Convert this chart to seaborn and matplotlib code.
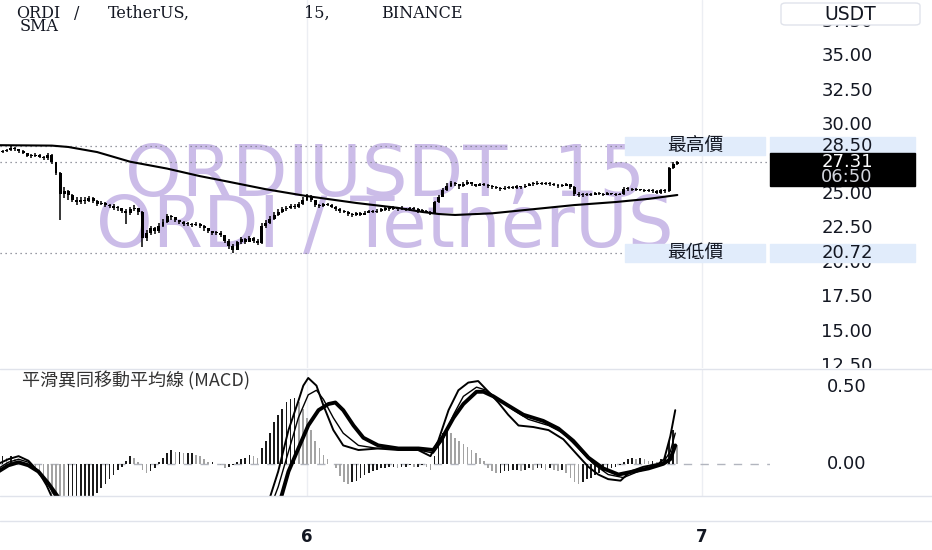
import numpy as np
import pandas as pd
import matplotlib
matplotlib.use("Agg")
import matplotlib.pyplot as plt
import matplotlib.transforms as mtransforms
from matplotlib.patches import Rectangle, FancyBboxPatch
from matplotlib.lines import Line2D
import seaborn as sns

# ---- 15m candles, ORDI/USDT ----
first_open = 28.00
closes = [
    28.05, 28.10, 28.20, 28.35, 28.25, 28.10, 28.00, 27.80, 27.75, 27.85,
    27.70, 27.60, 27.85, 27.30, 26.50, 25.00, 25.20, 24.90, 24.60, 24.40,
    24.60, 24.50, 24.70, 24.50, 24.30, 24.35, 24.20, 24.15, 24.00, 23.95,
    23.80, 23.60, 23.90, 24.00, 23.70, 21.80, 22.20, 22.50, 22.30, 22.70,
    23.00, 23.40, 23.30, 23.10, 22.95, 22.85, 22.80, 22.75, 22.80, 22.70,
    22.50, 22.30, 22.15, 22.20, 22.00, 21.60, 21.20, 20.95, 21.50, 21.70,
    21.55, 21.80, 21.60, 21.45, 22.70, 22.90, 23.20, 23.50, 23.70, 23.90,
    23.95, 24.10, 24.05, 24.30, 24.60, 24.85, 24.55, 24.20, 24.10, 24.25,
    24.20, 24.05, 23.90, 23.75, 23.70, 23.55, 23.45, 23.60, 23.50, 23.65,
    23.75, 23.70, 23.80, 23.85, 23.95, 23.90, 24.00, 23.90, 23.95, 23.85,
    23.95, 23.90, 23.75, 23.80, 23.70, 23.60, 24.40, 24.80, 25.30, 25.60,
    25.80, 25.70, 25.55, 25.75, 25.85, 25.70, 25.60, 25.70, 25.65, 25.55,
    25.50, 25.45, 25.35, 25.45, 25.50, 25.45, 25.55, 25.50, 25.60, 25.70,
    25.75, 25.80, 25.75, 25.80, 25.70, 25.65, 25.55, 25.60, 25.70, 25.50,
    25.00, 24.90, 24.95, 25.00, 24.95, 25.05, 25.00, 24.95, 25.05, 25.00,
    24.95, 25.00, 25.40, 25.35, 25.30, 25.35, 25.30, 25.25, 25.30, 25.20,
    25.10, 25.30, 25.20, 26.90, 27.20, 27.31,
]
highs = [
    28.15, 28.20, 28.30, 28.50, 28.45, 28.30, 28.20, 28.00, 27.90, 27.95,
    27.90, 27.75, 28.00, 27.90, 27.35, 26.60, 25.50, 25.30, 25.00, 24.80,
    24.80, 24.75, 24.85, 24.80, 24.55, 24.50, 24.40, 24.30, 24.25, 24.10,
    24.00, 23.90, 24.05, 24.20, 24.00, 23.80, 22.40, 22.70, 22.60, 22.90,
    23.20, 23.55, 23.50, 23.35, 23.15, 23.05, 22.95, 22.90, 22.95, 22.90,
    22.75, 22.55, 22.35, 22.35, 22.30, 22.05, 21.70, 21.35, 21.60, 21.85,
    21.80, 21.95, 21.85, 21.70, 22.90, 23.10, 23.40, 23.70, 23.90, 24.05,
    24.10, 24.25, 24.25, 24.45, 24.75, 25.00, 24.95, 24.60, 24.30, 24.35,
    24.35, 24.25, 24.10, 23.95, 23.85, 23.75, 23.65, 23.70, 23.70, 23.80,
    23.85, 23.85, 23.90, 23.95, 24.05, 24.05, 24.10, 24.05, 24.10, 24.00,
    24.05, 24.05, 23.95, 23.90, 23.85, 23.80, 24.50, 24.95, 25.45, 25.80,
    25.95, 25.90, 25.75, 25.90, 26.00, 25.90, 25.75, 25.80, 25.80, 25.70,
    25.65, 25.60, 25.50, 25.55, 25.60, 25.60, 25.65, 25.60, 25.70, 25.80,
    25.90, 25.95, 25.90, 25.90, 25.85, 25.80, 25.70, 25.70, 25.80, 25.75,
    25.55, 25.15, 25.10, 25.10, 25.10, 25.15, 25.15, 25.10, 25.15, 25.10,
    25.10, 25.10, 25.50, 25.50, 25.45, 25.45, 25.40, 25.40, 25.40, 25.35,
    25.30, 25.40, 25.35, 27.00, 27.35, 27.40,
]
lows = [
    27.95, 28.00, 28.05, 28.15, 28.15, 28.00, 27.90, 27.70, 27.60, 27.70,
    27.60, 27.45, 27.50, 27.20, 26.40, 23.10, 24.70, 24.60, 24.40, 24.20,
    24.30, 24.30, 24.40, 24.35, 24.15, 24.20, 24.05, 24.00, 23.85, 23.80,
    23.60, 22.80, 23.50, 23.80, 23.50, 21.15, 21.60, 22.00, 22.10, 22.20,
    22.60, 22.90, 23.10, 22.95, 22.80, 22.70, 22.65, 22.60, 22.65, 22.55,
    22.35, 22.15, 22.00, 22.05, 21.85, 21.45, 21.00, 20.72, 20.90, 21.40,
    21.40, 21.50, 21.45, 21.30, 21.40, 22.50, 22.80, 23.10, 23.40, 23.60,
    23.75, 23.90, 23.90, 24.00, 24.20, 24.50, 24.40, 24.05, 24.00, 24.05,
    24.10, 23.95, 23.80, 23.65, 23.60, 23.40, 23.35, 23.40, 23.40, 23.45,
    23.60, 23.60, 23.65, 23.70, 23.80, 23.80, 23.85, 23.80, 23.85, 23.75,
    23.80, 23.80, 23.65, 23.70, 23.60, 23.50, 23.55, 24.35, 24.75, 25.20,
    25.50, 25.55, 25.40, 25.50, 25.65, 25.60, 25.50, 25.55, 25.55, 25.45,
    25.40, 25.35, 25.25, 25.30, 25.40, 25.35, 25.40, 25.40, 25.45, 25.55,
    25.60, 25.65, 25.65, 25.65, 25.60, 25.55, 25.45, 25.50, 25.55, 25.40,
    24.85, 24.75, 24.80, 24.85, 24.85, 24.90, 24.90, 24.85, 24.90, 24.90,
    24.85, 24.90, 24.95, 25.20, 25.20, 25.25, 25.20, 25.15, 25.15, 25.10,
    25.00, 25.00, 25.10, 25.15, 26.80, 27.10,
]

# SMA line (candle index, value)
sma_idx = [0, 13, 17, 24, 32, 41, 49, 55, 65, 75, 87, 97, 103, 107, 111,
           120, 130, 140, 150, 158, 165]
sma_vals = [28.55, 28.52, 28.42, 28.05, 27.35, 26.85, 26.30, 25.95, 25.35,
            24.85, 24.35, 24.00, 23.70, 23.55, 23.48, 23.60, 23.90, 24.20,
            24.42, 24.65, 24.93]

# MACD pane
macd_idx = [0, 2.4, 4.9, 7.3, 9.7, 11.7, 13.4, 19, 36, 49, 61, 65.1, 66.1, 68,
            70.5, 72.9, 74.1, 75.3, 77.3, 79, 81.4, 83.8, 87.5, 92.3, 97.2,
            102, 105, 106.9, 109.4, 111.8, 114.2, 116.6, 119.1, 121.5, 123.9,
            126.4, 130, 133.7, 137.3, 141, 143.4, 145.8, 148.2, 151.2, 153.6,
            156.7, 160.4, 161.8, 163.3, 164.5]
macd_vals = [0.00, 0.03, 0.05, 0.02, -0.05, -0.14, -0.24, -0.45, -0.60, -0.52,
             -0.45, -0.30, -0.21, -0.05, 0.22, 0.41, 0.51, 0.56, 0.51, 0.38,
             0.22, 0.12, 0.09, 0.10, 0.09, 0.09, 0.05, 0.15, 0.35, 0.48, 0.53,
             0.54, 0.47, 0.40, 0.32, 0.25, 0.24, 0.22, 0.16, 0.05, -0.02,
             -0.07, -0.10, -0.11, -0.05, -0.02, 0.00, 0.03, 0.18, 0.35]

signal_idx = [0, 2.4, 4.9, 7.3, 9.7, 12.2, 14.6, 24, 36, 49, 61, 66.8, 68.8,
              70.5, 72.9, 75.3, 77.8, 80.2, 81.9, 83.8, 86.3, 88.7, 92.3, 97.2,
              102.1, 105.7, 108.1, 110.6, 113, 116.2, 117.9, 120.3, 123.9,
              127.6, 132.4, 136.1, 139.7, 143.4, 147, 150.7, 154.3, 158, 161.6,
              163.3, 164.5]
signal_vals = [-0.05, -0.01, 0.01, -0.01, -0.05, -0.13, -0.22, -0.45, -0.55,
               -0.52, -0.45, -0.35, -0.21, -0.05, 0.10, 0.25, 0.35, 0.39, 0.40,
               0.35, 0.25, 0.17, 0.12, 0.10, 0.10, 0.09, 0.18, 0.30, 0.39, 0.47,
               0.47, 0.44, 0.38, 0.32, 0.28, 0.23, 0.15, 0.04, -0.03, -0.07,
               -0.05, -0.03, 0.00, 0.03, 0.12]

third_idx = [0, 2.4, 4.9, 7.3, 9.7, 12.2, 14.1, 24, 36, 49, 61, 66.6, 68, 70.5,
             72.9, 75.3, 77.3, 79, 81.4, 83.8, 87.5, 92.3, 97.2, 102.1, 105.7,
             108.1, 110.6, 113, 116.2, 118.6, 121.5, 125.2, 128.8, 133.7,
             137.3, 141, 144.6, 148.2, 151.9, 155.5, 159.2, 161.6, 163.3, 164.5]
third_vals = [-0.03, 0.01, 0.03, 0.01, -0.05, -0.14, -0.23, -0.50, -0.58, -0.50,
              -0.45, -0.25, -0.15, 0.08, 0.30, 0.45, 0.48, 0.42, 0.30, 0.20,
              0.12, 0.10, 0.10, 0.09, 0.07, 0.16, 0.32, 0.44, 0.50, 0.48, 0.42,
              0.35, 0.29, 0.25, 0.20, 0.10, 0.00, -0.07, -0.09, -0.05, -0.02,
              0.01, 0.08, 0.20]

hist = [
    0.04, 0.05, 0.04, 0.05, 0.03, 0.02, 0.01, 0.00, -0.01, -0.02,
    -0.05, -0.09, -0.14, -0.20, -0.26, -0.30, -0.31, -0.30, -0.29, -0.28,
    -0.27, -0.26, -0.24, -0.22, -0.19, -0.16, -0.13, -0.10, -0.07, -0.04,
    -0.02, 0.02, 0.05, 0.04, 0.01, -0.04, -0.06, -0.05, -0.03, 0.01,
    0.04, 0.07, 0.09, 0.08, 0.08, 0.07, 0.07, 0.07, 0.06, 0.05,
    0.03, 0.01, 0.01, 0.00, -0.01, -0.03, -0.02, -0.01, 0.01, 0.03,
    0.04, 0.06, 0.05, 0.04, 0.10, 0.15, 0.20, 0.27, 0.32, 0.36,
    0.40, 0.42, 0.43, 0.40, 0.36, 0.30, 0.22, 0.15, 0.10, 0.06,
    0.03, 0.00, -0.03, -0.08, -0.12, -0.13, -0.12, -0.11, -0.09, -0.07,
    -0.06, -0.05, -0.04, -0.03, -0.03, -0.02, -0.02, -0.03, -0.02, -0.02,
    -0.01, -0.02, -0.02, -0.01, -0.02, -0.04, 0.05, 0.14, 0.20, 0.22,
    0.20, 0.17, 0.15, 0.13, 0.11, 0.09, 0.07, 0.04, 0.02, -0.03,
    -0.05, -0.06, -0.06, -0.05, -0.05, -0.04, -0.04, -0.05, -0.04, -0.03,
    -0.04, -0.03, -0.03, -0.04, -0.03, -0.04, -0.05, -0.04, -0.06, -0.09,
    -0.12, -0.13, -0.12, -0.10, -0.09, -0.07, -0.06, -0.05, -0.04, -0.03,
    -0.02, -0.01, 0.01, 0.03, 0.04, 0.03, 0.04, 0.03, 0.02, 0.02,
    0.01, 0.03, 0.05, 0.15, 0.22, 0.12,
]

price_ticks = [12.5, 15.0, 17.5, 20.0, 22.5, 25.0, 27.5, 30.0, 32.5, 35.0, 37.5]
macd_ticks = [0.0, 0.5]
day_labels = ["6", "7"]
countdown = "06:50"

# ---- layout ----
sns.set_theme(style="white")
plt.rcParams["font.family"] = ["DejaVu Sans", "Noto Sans CJK TC"]

W, H = 932, 550
fig = plt.figure(figsize=(W / 100, H / 100), dpi=100)


def fx(px):
    return px / W


def fy(py):
    return 1 - py / H


ax = fig.add_axes([0, fy(368), fx(770), 1 - fy(368)])
axm = fig.add_axes([0, fy(496), fx(770), fy(370) - fy(496)], sharex=ax)

idx = np.arange(len(closes))
times = pd.date_range("2023-12-05 05:15", periods=len(closes), freq="15min")
day_pos = (pd.to_datetime(["2023-12-06", "2023-12-07"]) - times[0]) / pd.Timedelta("15min")
px_per_bar = 395 / 96
x0 = day_pos[0] - 307 / px_per_bar
ax.set_xlim(x0, x0 + 770 / px_per_bar)
ax.set_ylim(12.36, 39.1)
axm.set_ylim(-0.21, 0.612)
for a in (ax, axm):
    a.axis("off")
    for p in day_pos:
        a.axvline(p, color="#eceef3", lw=1, zorder=0)

# watermark
wm = "#cbbce8"
ax.text(0.5, 1 - 196 / 368, "ORDIUSDT, 15", transform=ax.transAxes, ha="center",
        va="baseline", fontsize=52, color=wm, zorder=1)
ax.text(0.5, 1 - 247 / 368, "ORDI / TetherUS", transform=ax.transAxes, ha="center",
        va="baseline", fontsize=52, color=wm, zorder=1)

# candles
o = np.array([first_open] + closes[:-1])
c = np.array(closes)
ax.vlines(idx, lows, highs, color="black", lw=1.1, zorder=3)
ax.bar(idx, np.maximum(np.abs(c - o), 0.08), bottom=np.minimum(o, c), width=0.72,
       color="black", linewidth=0, zorder=3)

sns.lineplot(x=sma_idx, y=sma_vals, ax=ax, color="black", lw=1.5, zorder=4)

# high / low / last markers
hi, lo, last = max(highs), min(lows), closes[-1]
ax.axhline(hi, xmax=fx(622) / fx(770), color="#787b86", lw=0.9, ls=(0, (1, 3)), zorder=2)
ax.axhline(lo, xmax=fx(622) / fx(770), color="#787b86", lw=0.9, ls=(0, (1, 3)), zorder=2)
ax.axhline(last, color="#787b86", lw=0.9, ls=(0, (1, 3)), zorder=2)

yb = mtransforms.blended_transform_factory(fig.transFigure, ax.transData)
ppu = 368 / (39.1 - 12.36)
panel_clip = mtransforms.TransformedBbox(mtransforms.Bbox.from_extents(0, fy(368), 1, 1),
                                         fig.transFigure)

# price scale (the tick under the last-price tag is hidden, as on the chart)
for v in price_ticks:
    if abs(v - last) < 0.8:
        continue
    t = ax.text(fx(847), v, f"{v:.2f}", transform=yb, ha="center", va="center",
                fontsize=13, color="#131722", zorder=2)
    t.set_clip_box(panel_clip)
    t.set_clip_on(True)

box_blue = "#e1ecfb"
for val, name in [(hi, "最高價"), (lo, "最低價")]:
    ax.add_patch(Rectangle((fx(625), val - 9 / ppu), fx(765) - fx(625), 18 / ppu,
                           transform=yb, color=box_blue, clip_on=False, zorder=5))
    ax.add_patch(Rectangle((fx(770), val - 9 / ppu), fx(915) - fx(770), 18 / ppu,
                           transform=yb, color=box_blue, clip_on=False, zorder=5))
    ax.text(fx(695), val, name, transform=yb, ha="center", va="center",
            fontsize=13.5, color="#131722", family=["Noto Sans CJK TC", "DejaVu Sans"],
            zorder=6, clip_on=False)
    ax.text(fx(847), val, f"{val:.2f}", transform=yb, ha="center", va="center",
            fontsize=13, color="#131722", zorder=6, clip_on=False)

ax.add_patch(Rectangle((fx(770), last - 24 / ppu), fx(915) - fx(770), 33 / ppu,
                       transform=yb, color="black", clip_on=False, zorder=5))
ax.text(fx(847), last, f"{last:.2f}", transform=yb, ha="center", va="center",
        fontsize=13, color="white", zorder=6, clip_on=False)
ax.text(fx(847), last - 15 / ppu, countdown, transform=yb, ha="center", va="center",
        fontsize=13, color="#d1d4dc", zorder=6, clip_on=False)

# USDT box
ax.add_patch(FancyBboxPatch((fx(781), fy(25)), fx(920) - fx(781), fy(3) - fy(25),
                            boxstyle="round,pad=0,rounding_size=0.005",
                            transform=fig.transFigure, fc="white", ec="#e0e3eb",
                            lw=1, clip_on=False, zorder=7))
ax.text(fx(850), fy(14), "USDT", transform=fig.transFigure, ha="center", va="center",
        fontsize=13.5, color="#131722", zorder=8, clip_on=False)

# header
for tok, xp in [("ORDI", 38), ("/", 77), ("TetherUS,", 149), ("15,", 317),
                ("BINANCE", 422)]:
    fig.text(fx(xp), fy(18), tok, family="DejaVu Serif", fontsize=11.5,
             color="#131722", va="baseline", ha="center")
fig.text(fx(20), fy(31), "SMA", family="DejaVu Serif", fontsize=11.5,
         color="#131722", va="baseline")

# MACD pane
h = np.array(hist)
rising = np.diff(h, prepend=h[0]) >= 0
axm.axhline(0, color="#b2b5be", lw=1, ls=(0, (6, 6)), zorder=1)
axm.bar(idx, h, width=0.4, color=np.where(rising, "#1a1a1a", "#a3a3a3"),
        linewidth=0, zorder=2)
sns.lineplot(x=third_idx, y=third_vals, ax=axm, color="black", lw=1.0, zorder=3)
sns.lineplot(x=macd_idx, y=macd_vals, ax=axm, color="black", lw=1.4, zorder=3)
sns.lineplot(x=signal_idx, y=signal_vals, ax=axm, color="black", lw=2.8, zorder=4)

ybm = mtransforms.blended_transform_factory(fig.transFigure, axm.transData)
for v in macd_ticks:
    axm.text(fx(847), v, f"{v:.2f}", transform=ybm, ha="center", va="center",
             fontsize=13, color="#131722", clip_on=False)
fig.text(fx(22), fy(381), "平滑異同移動平均線 (MACD)", fontsize=13, color="#333333",
         va="center", family=["Noto Sans CJK TC", "DejaVu Sans"])

# time axis
xt = mtransforms.blended_transform_factory(ax.transData, fig.transFigure)
for p, lab in zip(day_pos, day_labels):
    ax.text(p, fy(537), lab, transform=xt, ha="center", va="center", fontsize=12,
            fontweight="bold", color="#131722", clip_on=False)

for yy in (369, 496, 521):
    fig.add_artist(Line2D([0, 1], [fy(yy), fy(yy)], color="#e0e3eb", lw=1))

fig.savefig("out.png", dpi=100, facecolor="white")
